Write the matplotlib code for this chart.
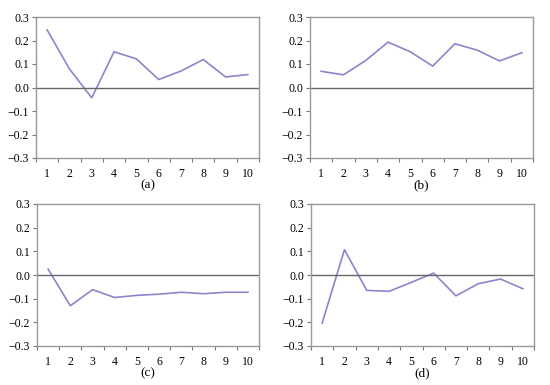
import matplotlib
matplotlib.use("Agg")
import matplotlib.pyplot as plt
import numpy as np

periods = [1, 2, 3, 4, 5, 6, 7, 8, 9, 10]
resp_a = [0.245, 0.079, -0.044, 0.152, 0.122, 0.034, 0.070, 0.119, 0.045, 0.055]
resp_b = [0.069, 0.054, 0.115, 0.193, 0.152, 0.091, 0.186, 0.159, 0.113, 0.148]
resp_c = [0.025, -0.130, -0.062, -0.095, -0.086, -0.081, -0.073, -0.079, -0.073, -0.073]
resp_d = [-0.203, 0.107, -0.065, -0.069, -0.031, 0.008, -0.088, -0.037, -0.017, -0.058]
yticks = [-0.3, -0.2, -0.1, 0.0, 0.1, 0.2, 0.3]
panel_labels = ["(a)", "(b)", "(c)", "(d)"]

plt.rcParams["font.family"] = ["Liberation Serif", "DejaVu Serif"]

fig = plt.figure(figsize=(5.5, 3.85), dpi=100)

# axes boxes in pixels: left, top, right, bottom
boxes = [(36, 17, 259, 158), (310, 17, 533, 158),
         (37, 204, 259, 346), (311, 204, 534, 346)]
series = [resp_a, resp_b, resp_c, resp_d]

for (l, t, r, b), y, lab in zip(boxes, series, panel_labels):
    ax = fig.add_axes([l / 550, 1 - b / 385, (r - l) / 550, (b - t) / 385])
    ax.plot(periods, y, color="#8a86cc", lw=1.2)
    ax.axhline(0, color="#666666", lw=1.0)
    ax.set_xlim(0.5, 10.5)
    ax.set_ylim(-0.3, 0.3)
    # ticks between categories, labels at category centers
    ax.set_xticks(np.arange(0.5, 11, 1))
    ax.set_xticklabels([])
    ax.set_xticks(periods, minor=True)
    ax.set_xticklabels([str(p) for p in periods], minor=True)
    ax.tick_params(axis="x", which="major", length=3, width=0.8, color="#777777")
    ax.tick_params(axis="x", which="minor", length=0, pad=7, labelsize=8.5)
    ax.set_yticks(yticks)
    ax.set_yticklabels(["\u22120.3", "\u22120.2", "\u22120.1", "0.0", "0.1", "0.2", "0.3"])
    ax.tick_params(axis="y", length=3, width=0.8, color="#777777", labelsize=8.5, pad=2)
    for s in ax.spines.values():
        s.set_color("#999999")
        s.set_linewidth(1.0)
    ax.set_xlabel(lab, fontsize=9.5, labelpad=0)

fig.savefig("out.png", dpi=100)
